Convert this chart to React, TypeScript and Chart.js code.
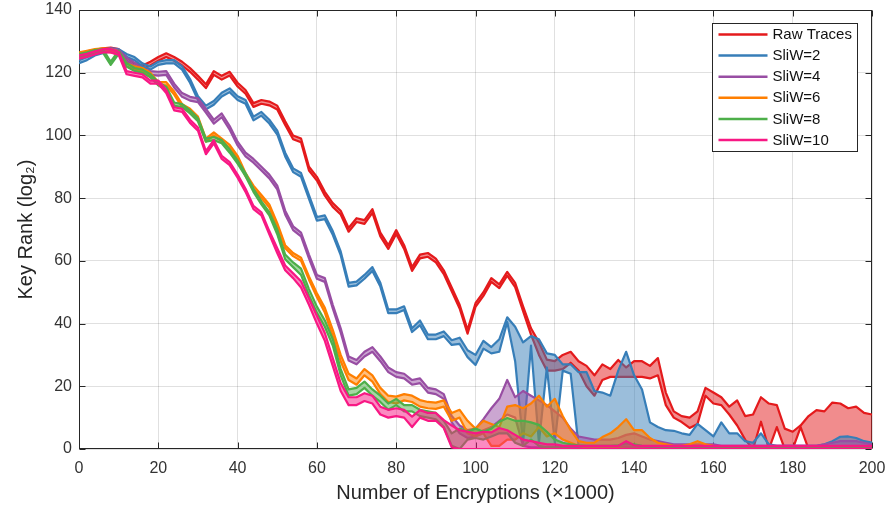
import React, { useEffect, useRef } from "react";
import { Chart, registerables } from "chart.js";

Chart.register(...registerables);

const X_VALUES = [
  0, 2, 4, 6, 8, 10, 12, 14, 16, 18,
  20, 22, 24, 26, 28, 30, 32, 34, 36, 38,
  40, 42, 44, 46, 48, 50, 52, 54, 56, 58,
  60, 62, 64, 66, 68, 70, 72, 74, 76, 78,
  80, 82, 84, 86, 88, 90, 92, 94, 96, 98,
  100, 102, 104, 106, 108, 110, 112, 114, 116, 118,
  120, 122, 124, 126, 128, 130, 132, 134, 136, 138,
  140, 142, 144, 146, 148, 150, 152, 154, 156, 158,
  160, 162, 164, 166, 168, 170, 172, 174, 176, 178,
  180, 182, 184, 186, 188, 190, 192, 194, 196, 198,
  200,
];
const X_TICKS = [0, 20, 40, 60, 80, 100, 120, 140, 160, 180, 200];
const Y_TICKS = [0, 20, 40, 60, 80, 100, 120, 140];

const SERIES_NAMES = ["Raw Traces", "SliW=2", "SliW=4", "SliW=6", "SliW=8", "SliW=10"];
const LINE_COLORS = ["#e41a1c", "#377eb8", "#984ea3", "#ff7f00", "#4daf4a", "#f81884"];
const FILL_COLORS = [
  "rgba(228,26,28,0.5)",
  "rgba(55,126,184,0.5)",
  "rgba(152,78,163,0.5)",
  "rgba(255,127,0,0.5)",
  "rgba(77,175,74,0.5)",
  "rgba(248,24,132,0.5)",
];

const RAW_HI = [
  126, 126.8, 127.3, 127.8, 128, 127.5, 125, 123, 122.3, 123.5,
  125, 126.2, 125, 123.5, 121.5, 119, 116.3, 120.5, 119, 120.3,
  116.8, 114.5, 110.3, 111.3, 110.8, 109.5, 104.5, 100, 99, 90,
  86.8, 82, 78.4, 76, 70.5, 73.6, 73, 76.5, 69, 65,
  69.8, 65, 58, 62, 62.5, 60.7, 57, 51.5, 46, 38,
  46.5, 50, 54.5, 52.5, 56.5, 53, 45.5, 38.5, 34, 28.5,
  28, 30, 31, 28, 26.5, 23.5, 27, 25.5, 28.4, 26,
  28, 28, 26.5, 29, 18, 12, 10.5, 10, 12, 19.5,
  18, 16.5, 13.5, 15.5, 10.5, 11, 16.5, 14.5, 14, 6.5,
  5.5, 7.5, 10.5, 12.4, 12, 14.8, 14.5, 13, 13.5, 11.5,
  11,
];
const RAW_LO = [
  124.8, 125.6, 126.1, 126.6, 126.8, 126.3, 123.8, 121.8, 121.1, 122.3,
  123.8, 125, 123.8, 122.3, 120.3, 117.8, 115.1, 119.3, 117.8, 119.1,
  115.6, 113.3, 109.1, 110.1, 109.6, 108.3, 103.3, 98.8, 97.8, 88.8,
  85.6, 80.8, 77.2, 74.8, 69.3, 72.4, 71.8, 75.3, 67.8, 63.8,
  68.6, 63.8, 56.8, 60.8, 61.3, 59.5, 55.8, 50.3, 44.8, 36.8,
  45.3, 48.8, 53.3, 51.3, 55.3, 51.6, 44, 36.5, 30, 25,
  25, 25.5, 27.5, 25, 20, 17, 22, 23, 23, 23,
  23, 23, 22.5, 23.5, 14, 10, 8.6, 6.7, 8, 17,
  14.5, 14, 11, 7.5, 3, 0, 8.7, 0, 7, 0,
  0, 7, 0, 0, 0, 0, 0, 0, 0, 0,
  0,
];

const SLIW2_HI = [
  124, 125, 126.5, 127.2, 127.8, 127.5, 126, 125, 123, 122,
  123.5, 124, 124, 122, 118, 112.5, 109.5, 111, 113.6, 115,
  112.5, 111.3, 106, 107.5, 105, 101.5, 94.5, 89.5, 88, 81,
  74, 74.5, 69.5, 63, 53, 53.4, 55.5, 58, 53, 44.5,
  44.5, 45.5, 38.5, 41, 36.5, 36.5, 37.5, 34.7, 35.5, 31.5,
  30, 34.5, 32.5, 35, 42, 39, 34, 36, 35, 30.5,
  30, 27, 27, 24.5, 24.5, 18.5, 18, 17, 25, 31,
  23.5, 19, 8.5, 7, 6, 5.8, 5, 4.5, 8, 6,
  4, 8.5, 5, 5, 2.5, 2, 5, 1.5, 1, 1,
  1, 1, 1, 1, 1.5, 2.5, 3.9, 4, 3.5, 2.5,
  2,
];
const SLIW2_LO = [
  123, 124, 125.5, 126.2, 126.8, 126.5, 125, 124, 122, 121,
  122.5, 123, 123, 121, 116.8, 111.3, 108.3, 109.8, 112.4, 113.8,
  111.3, 110.1, 104.8, 106.3, 103.8, 100.3, 93.3, 88.3, 86.8, 79.8,
  72.8, 73.3, 68.3, 61.8, 51.8, 52.2, 54.3, 56.8, 51.8, 43.3,
  43.3, 44.3, 37.3, 39.5, 35, 35, 36, 33.2, 33.5, 29.3,
  26.8, 32, 30.5, 31, 40.5, 28, 2, 33, 2, 26,
  2, 25, 24, 1, 0.5, 0.5, 0.5, 0.5, 0.5, 0.5,
  0.5, 0.5, 0, 0, 0, 0, 0, 0, 0, 0,
  0, 0, 0, 0, 0, 0, 0, 0, 0, 0,
  0, 0, 0, 0, 0, 0, 0, 0, 0, 0,
  0,
];

const SLIW4_HI = [
  126, 126.5, 127.2, 127.5, 127.8, 127.3, 124.8, 123.2, 121.2, 120.5,
  120.3, 120.5, 116.5, 113.5, 112.3, 111.8, 108.5, 105, 107, 103,
  98, 94.5, 92.5, 90, 87.5, 84, 76, 71, 69, 62,
  55.5, 54.5, 46, 38.5, 29.5, 28.4, 31, 32.5, 29.5, 26,
  24.5, 24, 22, 22.5, 19.5, 19, 17.5, 10.5, 7.5, 6,
  6.5, 9.5, 13, 16, 22, 16.5, 18.5, 17, 15.5, 14,
  12, 10, 6.5, 4, 3.5, 3, 3, 3, 3.5, 4.5,
  5, 4, 3, 2.5, 2, 1.5, 1.5, 1.5, 1.5, 1.5,
  1.5, 1, 1, 1, 1, 1, 1, 1, 1, 1,
  1, 1, 1, 1, 1.5, 2, 2.5, 2.5, 2.5, 2,
  1.5,
];
const SLIW4_LO = [
  125, 125.5, 126.2, 126.5, 126.8, 126.3, 123.8, 122.2, 120, 119.3,
  119.1, 119.3, 115.3, 112.3, 111.1, 110.6, 107.3, 103.8, 105.8, 101.8,
  96.8, 93.3, 91.3, 88.8, 86.3, 82.8, 74.8, 69.8, 67.8, 60.8,
  54.3, 53.3, 44.8, 37.2, 28.2, 27, 29.5, 31, 28, 24.5,
  23, 22.5, 20.5, 21, 18, 17.5, 16, 8.5, 5, 3.5,
  4, 6, 7, 9, 11, 10, 1, 0.5, 0.5, 0.5,
  0.5, 0.5, 0.5, 0.5, 0.5, 0.5, 0.5, 0.5, 0.5, 0.5,
  0.5, 0.5, 0.5, 0.5, 0.5, 0.5, 0, 0, 0, 0,
  0, 0, 0, 0, 0, 0, 0, 0, 0, 0,
  0, 0, 0, 0, 0, 0, 0, 0, 0, 0,
  0,
];

const SLIW6_HI = [
  126.5, 127, 127.5, 127.8, 127.5, 126.8, 123, 122, 121.5, 120,
  117, 117, 114, 110, 108.5, 106, 99, 101, 99, 97,
  93.5, 88, 84, 81, 78, 72, 65, 62.5, 61, 55,
  49.7, 45, 38, 30, 24, 22.5, 25.5, 23.5, 19.5, 17,
  16.7, 17.5, 17, 15.6, 15, 14.8, 15.5, 11.5, 12.5, 9,
  6.5, 9, 8, 7, 13.5, 14, 13, 14.5, 17, 13.5,
  16, 10.5, 6, 2.5, 2, 2, 3.8, 5, 7, 9.5,
  6, 6, 3.5, 2, 1.5, 1, 1, 1.5, 2.5, 1.5,
  1, 0.7, 0.7, 0.7, 0.7, 0.7, 0.7, 0.7, 0.7, 0.7,
  0.7, 0.7, 0.7, 0.7, 0.7, 0.7, 0.7, 0.7, 0.7, 0.7,
  0.7,
];
const SLIW6_LO = [
  125.5, 126, 126.5, 126.8, 126.5, 125.8, 122, 121, 120.5, 119,
  116, 116, 113, 109, 107.5, 105, 98, 100, 98, 96,
  92.5, 87, 83, 80, 77, 71, 64, 61.5, 60, 54,
  48.5, 43.5, 36, 28, 22, 20.5, 23.5, 21.5, 17.5, 15,
  14.5, 15.5, 15, 13.5, 13, 12.8, 13.5, 9, 10, 5,
  4, 5, 1, 1, 3, 3, 5, 4, 7, 4,
  5, 3, 2, 1, 0.5, 0.5, 0.5, 0.5, 0.5, 0,
  0, 0, 0, 0, 0, 0, 0, 0, 0, 0,
  0, 0, 0, 0, 0, 0, 0, 0, 0, 0,
  0, 0, 0, 0, 0, 0, 0, 0, 0, 0,
  0,
];

const SLIW8_HI = [
  126, 126.5, 127.2, 127.5, 123.5, 127, 123, 121.5, 121, 119.5,
  117, 115.5, 110.5, 110, 108, 105.5, 99, 99.5, 98.5, 95.5,
  92, 88, 83, 79, 75.5, 70, 62, 59.5, 57.5, 51,
  45.4, 41, 35, 25.5, 19, 19.5, 21.5, 19, 17, 14.5,
  16, 14, 14, 12.5, 12, 11.5, 9, 5, 6.5, 5.5,
  6.5, 5.5, 6.5, 8.7, 9.9, 9, 9, 8.5, 7.7, 5.5,
  3, 2, 1.5, 1.2, 1, 1, 1, 1, 1.2, 1.8,
  1.5, 1, 0.7, 0.7, 0.7, 0.7, 0.7, 0.7, 0.7, 0.7,
  0.7, 0.7, 0.7, 0.7, 0.7, 0.7, 0.7, 0.7, 0.7, 0.7,
  0.7, 0.7, 0.7, 0.7, 0.7, 0.7, 0.7, 0.7, 0.7, 0.7,
  0.7,
];
const SLIW8_LO = [
  125, 125.5, 126.2, 126.5, 122.5, 126, 122, 120.5, 120, 118.5,
  116, 114.5, 109.5, 109, 107, 104.5, 98, 98.5, 97.5, 94.5,
  91, 87, 82, 78, 74.5, 68.5, 60.5, 58, 55.5, 49,
  43.4, 39, 33, 23.5, 17, 17.5, 19.5, 17, 15, 12.5,
  14, 12, 12, 10.5, 10, 9.5, 7, 1, 0, 3,
  3.5, 3, 4, 5, 5, 2, 1, 3, 1, 0.5,
  0.5, 0.5, 0, 0, 0, 0, 0, 0, 0, 0,
  0, 0, 0, 0, 0, 0, 0, 0, 0, 0,
  0, 0, 0, 0, 0, 0, 0, 0, 0, 0,
  0, 0, 0, 0, 0, 0, 0, 0, 0, 0,
  0,
];

const SLIW10_HI = [
  125.5, 126, 126.8, 127.5, 127.5, 126.7, 120.5, 120, 119.5, 117.5,
  117.5, 114.5, 109, 108.5, 105, 102.5, 95, 98.5, 93.5, 91.5,
  87.5, 83, 77.5, 75.5, 69.5, 64, 58.5, 56, 53.5, 48,
  42.5, 37, 29, 21, 16.5, 16.5, 17.8, 17, 13.5, 12.5,
  13, 12.5, 10.3, 12.4, 11.5, 11.5, 9.2, 7.5, 6, 5.5,
  5, 5.5, 5.3, 6.7, 6, 4.5, 3, 2.5, 2, 1.5,
  1.5, 1, 1, 1, 1, 1, 1, 1, 1, 2.5,
  1.2, 1, 1, 1, 1, 1, 1, 1, 1, 1,
  1, 1, 1, 1, 1, 1, 1, 1, 1, 1,
  1, 1, 1, 1, 1, 1, 1, 1, 1, 1,
  1,
];
const SLIW10_LO = [
  124.5, 125, 125.8, 126.5, 126.5, 125.7, 119.5, 119, 118.5, 116.5,
  116.5, 113.5, 108, 107.5, 104, 101.5, 94, 97.5, 92.5, 90.5,
  86.5, 82, 76.5, 74.5, 68.5, 62.5, 57, 54.5, 51.5, 46,
  40, 34.5, 26.5, 18.5, 14, 14, 15.3, 14.5, 11, 10,
  10.5, 10, 7, 10, 9, 9, 6.7, 0.5, 0, 0,
  0, 0, 0, 0, 0, 0, 0, 0, 0, 0,
  0, 0, 0, 0, 0, 0, 0, 0, 0, 0,
  0, 0, 0, 0, 0, 0, 0, 0, 0, 0,
  0, 0, 0, 0, 0, 0, 0, 0, 0, 0,
  0, 0, 0, 0, 0, 0, 0, 0, 0, 0,
  0,
];

const UPPER = [RAW_HI, SLIW2_HI, SLIW4_HI, SLIW6_HI, SLIW8_HI, SLIW10_HI];
const LOWER = [RAW_LO, SLIW2_LO, SLIW4_LO, SLIW6_LO, SLIW8_LO, SLIW10_LO];

const FONT = "'Liberation Sans', Arial, Helvetica, sans-serif";
const AXIS_COLOR = "#262626";

const framePlugin = {
  id: "matlabFrame",
  beforeDatasetsDraw(chart: any) {
    const { ctx, chartArea: a, scales } = chart;
    const L = Math.round(a.left) + 0.5;
    const R = Math.round(a.right) - 0.5;
    const T = Math.round(a.top) + 0.5;
    const B = Math.round(a.bottom) - 0.5;
    const tl = 6;
    ctx.save();
    ctx.strokeStyle = AXIS_COLOR;
    ctx.lineWidth = 1;
    ctx.beginPath();
    for (const v of X_TICKS) {
      const px = Math.round(scales.x.getPixelForValue(v)) + 0.5;
      ctx.moveTo(px, B);
      ctx.lineTo(px, B - tl);
      ctx.moveTo(px, T);
      ctx.lineTo(px, T + tl);
    }
    for (const v of Y_TICKS) {
      const py = Math.round(scales.y.getPixelForValue(v)) + 0.5;
      ctx.moveTo(L, py);
      ctx.lineTo(L + tl, py);
      ctx.moveTo(R, py);
      ctx.lineTo(R - tl, py);
    }
    ctx.stroke();
    ctx.strokeRect(L, T, R - L, B - T);
    ctx.restore();
  },
};

const legendPlugin = {
  id: "insideLegend",
  afterDatasetsDraw(chart: any) {
    const { ctx, chartArea: a } = chart;
    const bx = Math.round(a.right - 160) + 0.5;
    const by = Math.round(a.top + 13) + 0.5;
    const bw = 145;
    const bh = 128;
    ctx.save();
    ctx.fillStyle = "#ffffff";
    ctx.fillRect(bx, by, bw, bh);
    ctx.strokeStyle = AXIS_COLOR;
    ctx.lineWidth = 1;
    ctx.strokeRect(bx, by, bw, bh);
    ctx.font = `15px ${FONT}`;
    ctx.textBaseline = "middle";
    ctx.textAlign = "left";
    SERIES_NAMES.forEach((name, k) => {
      const y = by + 11 + k * 21.1;
      ctx.strokeStyle = LINE_COLORS[k];
      ctx.lineWidth = 2.5;
      ctx.beginPath();
      ctx.moveTo(bx + 6, y);
      ctx.lineTo(bx + 55, y);
      ctx.stroke();
      ctx.fillStyle = "#111111";
      ctx.fillText(name, bx + 60, y + 0.5);
    });
    ctx.restore();
  },
};

export default function App() {
  const canvasRef = useRef<HTMLCanvasElement | null>(null);

  useEffect(() => {
    const canvas = canvasRef.current;
    if (!canvas) return;
    Chart.defaults.font.family = FONT;

    const datasets: any[] = [];
    SERIES_NAMES.forEach((name, i) => {
      datasets.push({
        label: name,
        data: X_VALUES.map((x, j) => ({ x, y: UPPER[i][j] })),
        borderColor: LINE_COLORS[i],
        borderWidth: 2.2,
        borderJoinStyle: "round",
        pointRadius: 0,
        fill: false,
        tension: 0,
        order: 19 - 2 * i,
      });
      datasets.push({
        label: name + " lower",
        data: X_VALUES.map((x, j) => ({ x, y: LOWER[i][j] })),
        borderColor: LINE_COLORS[i],
        borderWidth: 2.2,
        borderJoinStyle: "round",
        pointRadius: 0,
        fill: "-1",
        backgroundColor: FILL_COLORS[i],
        tension: 0,
        order: 20 - 2 * i,
      });
    });

    const chart = new Chart(canvas, {
      type: "line",
      data: { datasets },
      options: {
        animation: false,
        responsive: false,
        devicePixelRatio: 1,
        layout: { padding: { top: 10, right: 14, left: 0, bottom: 0 } },
        plugins: {
          legend: { display: false },
          tooltip: { enabled: false },
        },
        scales: {
          x: {
            type: "linear",
            min: 0,
            max: 200,
            afterFit: (s: any) => {
              s.height = 60;
              s.paddingLeft = 0;
              s.paddingRight = 0;
              s.paddingTop = 0;
              s.paddingBottom = 0;
            },
            afterBuildTicks: (s: any) => {
              s.ticks = X_TICKS.map((v) => ({ value: v }));
            },
            ticks: {
              color: "#333333",
              font: { size: 16 },
              padding: 10,
              maxRotation: 0,
            },
            grid: { color: "rgba(0,0,0,0.12)", drawTicks: false, lineWidth: 1 },
            border: { display: false },
            title: {
              display: true,
              text: "Number of Encryptions (×1000)",
              color: AXIS_COLOR,
              font: { size: 20 },
              padding: { top: 0, bottom: 4 },
            },
          },
          y: {
            type: "linear",
            min: 0,
            max: 140,
            afterFit: (s: any) => {
              s.width = 79;
              s.paddingLeft = 0;
              s.paddingRight = 0;
              s.paddingTop = 0;
              s.paddingBottom = 0;
            },
            afterBuildTicks: (s: any) => {
              s.ticks = Y_TICKS.map((v) => ({ value: v }));
            },
            ticks: {
              color: "#333333",
              font: { size: 16 },
              padding: 7,
            },
            grid: { color: "rgba(0,0,0,0.12)", drawTicks: false, lineWidth: 1 },
            border: { display: false },
            title: {
              display: true,
              text: "Key Rank (log₂)",
              color: AXIS_COLOR,
              font: { size: 20 },
              padding: { top: 14, bottom: 0 },
            },
          },
        },
      },
      plugins: [framePlugin, legendPlugin],
    } as any);

    return () => {
      chart.destroy();
    };
  }, []);

  return (
    <div style={{ position: "absolute", left: 0, top: 0, width: 886, height: 509, background: "#ffffff" }}>
      <canvas ref={canvasRef} width={886} height={509} style={{ display: "block", width: 886, height: 509 }} />
    </div>
  );
}
